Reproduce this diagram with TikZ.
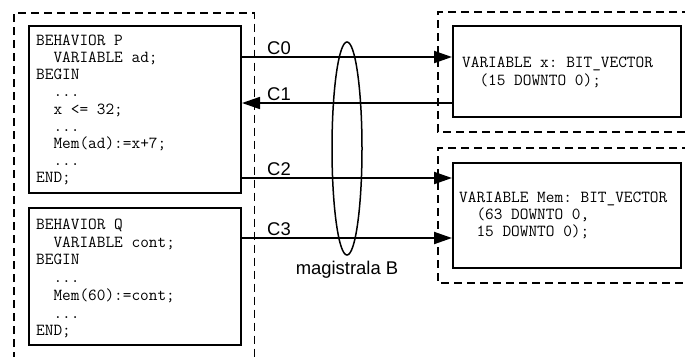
\documentclass[tikz,border=0pt]{standalone}
\usepackage{fontspec}
\setmainfont{Liberation Sans}
\usetikzlibrary{arrows.meta,shapes.geometric}
\newcommand\codefnt{\ttfamily\frenchspacing}
\tikzset{
  box/.style={draw, line width=2bp, inner sep=0pt},
  code/.style={font=\codefnt\fontsize{16.9}{17.2}\selectfont, align=left, inner sep=0pt, anchor=west},
  bus/.style={line width=2bp, -{Triangle[length=18bp,width=12bp]}},
  region/.style={line width=1.6bp, dash pattern=on 8bp off 5bp},
  lab/.style={font=\fontsize{18.5}{20}\selectfont, inner sep=0pt},
}
\begin{document}
\begin{tikzpicture}[x=1bp,y=-1bp]
\useasboundingbox (0,0) rectangle (685,356);
% dashed regions
\draw[region] (14,360) -- (14,13) -- (254.5,13) -- (254.5,360);
\draw[region] (690,12) -- (438,12) -- (438,132) -- (690,132);
\draw[region] (690,148) -- (438,148) -- (438,283) -- (690,283);
% boxes
\node[box, minimum width=212bp, minimum height=167bp] (P) at (135,109.5) {};
\node[box, minimum width=212bp, minimum height=137bp] (Q) at (135,276.5) {};
\node[box, minimum width=228bp, minimum height=91bp] (X) at (567,71.5) {};
\node[box, minimum width=228bp, minimum height=105bp] (M) at (567,215.5) {};
% code
\node[code] (Ptext) at (36,110) {BEHAVIOR P\\~~VARIABLE ad;\\BEGIN\\~~...\\~~x <= 32;\\~~...\\~~Mem(ad):=x+7;\\~~...\\END;};
\node[code, font=\codefnt\fontsize{16.9}{17.8}\selectfont] (Qtext) at (36,278.5) {BEHAVIOR Q\\~~VARIABLE cont;\\BEGIN\\~~...\\~~Mem(60):=cont;\\~~...\\END;};
\node[code, font=\codefnt\fontsize{16.9}{18.3}\selectfont] (Xtext) at (462,72.5) {VARIABLE x: BIT\_VECTOR\\~~(15 DOWNTO 0);};
\node[code, font=\codefnt\fontsize{16.9}{17}\selectfont] (Mtext) at (459,215.5) {VARIABLE Mem: BIT\_VECTOR\\~~(63 DOWNTO 0,\\~~15 DOWNTO 0);};
% connectors
\draw[bus] (P.east |- 0,57) -- (X.west |- 0,57);
\draw[bus, line width=1.6bp] (X.west |- 0,103) -- (P.east |- 0,103);
\draw[bus] (P.east |- 0,178) -- (M.west |- 0,178);
\draw[bus] (Q.east |- 0,238) -- (M.west |- 0,238);
% labels
\node[lab, anchor=west] (c0) at (267,48) {C0};
\node[lab, anchor=west] (c1) at (267,94) {C1};
\node[lab, anchor=west] (c2) at (267,169) {C2};
\node[lab, anchor=west] (c3) at (267,229) {C3};
% bus ellipse
\node[draw, ellipse, line width=1.5bp, minimum width=30bp, minimum height=213bp, inner sep=0pt] (B) at (347,148.5) {};
\node[lab] (Blab) at (347,270) {magistrala B};
\end{tikzpicture}
\end{document}
